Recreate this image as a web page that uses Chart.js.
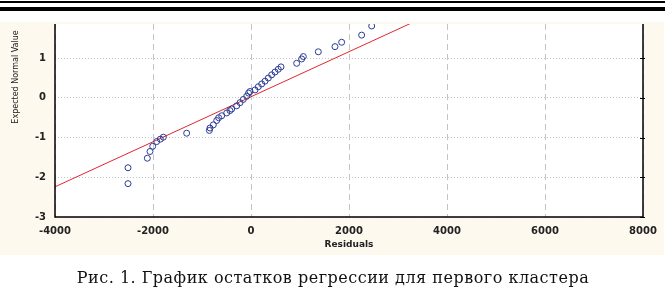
<!DOCTYPE html>
<html>
<head>
<meta charset="utf-8">
<script src="https://cdn.jsdelivr.net/npm/chart.js@4.4.1/dist/chart.umd.min.js"></script>
<style>
  html, body { margin: 0; padding: 0; background: #ffffff; }
  #wrap { position: relative; width: 668px; height: 290px; }
  canvas { display: block; }
</style>
</head>
<body>
<div id="wrap"><canvas id="c" width="668" height="290"></canvas></div>
<script>
// ---- data ----
const residuals = [-2510, -2510, -2116, -2061, -2006, -1925, -1850, -1789, -1313, -850,
  -837, -769, -700, -660, -598, -496, -430, -394, -292, -224,
  -157, -88, -50, -20, 82, 149, 218, 286, 353, 422,
  490, 557, 612, 932, 1034, 1068, 1374, 1714, 1850, 2258, 2463];
const expectedNormal = [-2.16, -1.76, -1.52, -1.35, -1.22, -1.10, -1.04, -0.99, -0.89, -0.82,
  -0.76, -0.68, -0.57, -0.50, -0.45, -0.38, -0.32, -0.28, -0.20, -0.12,
  -0.04, 0.04, 0.12, 0.16, 0.20, 0.28, 0.35, 0.42, 0.50, 0.58,
  0.65, 0.72, 0.78, 0.87, 0.98, 1.04, 1.16, 1.29, 1.40, 1.58, 1.81];
const fitLineX = [-4000, 3300];
const fitLineY = [-2.24, 1.90];
const xTicks = [-4000, -2000, 0, 2000, 4000, 6000, 8000];
const yTicks = [-3, -2, -1, 0, 1];
const xTitle = 'Residuals';
const yTitle = 'Expected Normal Value';
const caption = 'Рис. 1. График остатков регрессии для первого кластера';

const points = residuals.map((x, i) => ({ x: x, y: expectedNormal[i] }));
const linePts = fitLineX.map((x, i) => ({ x: x, y: fitLineY[i] }));

const decor = {
  id: 'decor',
  beforeDraw(chart) {
    const ctx = chart.ctx;
    const a = chart.chartArea;
    ctx.save();
    ctx.fillStyle = '#ffffff';
    ctx.fillRect(0, 0, 668, 290);
    ctx.fillStyle = '#fdf9ee';
    ctx.fillRect(0, 22, 664, 233);
    ctx.fillStyle = '#ffffff';
    ctx.fillRect(a.left, a.top, a.right - a.left, a.bottom - a.top);
    ctx.fillStyle = '#000000';
    ctx.fillRect(0, 1, 665, 2);
    ctx.fillRect(0, 7, 665, 4);
    ctx.restore();
  },
  afterDraw(chart) {
    const ctx = chart.ctx;
    const a = chart.chartArea;
    ctx.save();
    ctx.strokeStyle = '#000000';
    ctx.lineWidth = 1.5;
    ctx.beginPath();
    ctx.moveTo(a.left, a.top);
    ctx.lineTo(a.left, a.bottom);
    ctx.lineTo(a.right, a.bottom);
    ctx.lineTo(a.right, a.top);
    ctx.stroke();
    ctx.lineWidth = 1;
    const ys = chart.scales.y;
    yTicks.forEach(v => {
      const py = Math.round(ys.getPixelForValue(v)) + 0.5;
      ctx.beginPath();
      ctx.moveTo(a.right - 3, py);
      ctx.lineTo(a.right + 2, py);
      ctx.stroke();
    });
    ctx.fillStyle = '#222222';
    ctx.font = 'bold 9px "DejaVu Sans"';
    ctx.textAlign = 'center';
    ctx.textBaseline = 'middle';
    ctx.fillText(xTitle, (a.left + a.right) / 2, 245);
    ctx.save();
    ctx.translate(16, 77);
    ctx.rotate(-Math.PI / 2);
    ctx.font = '8px "DejaVu Sans"';
    ctx.fillText(yTitle, 0, 0);
    ctx.restore();
    ctx.fillStyle = '#111111';
    ctx.font = '16px "DejaVu Serif"';
    try { ctx.letterSpacing = '0.5px'; } catch (e) {}
    ctx.fillText(caption, 333, 279);
    ctx.restore();
  }
};

new Chart(document.getElementById('c'), {
  type: 'scatter',
  data: {
    datasets: [
      {
        label: 'fit',
        type: 'line',
        data: linePts,
        borderColor: '#e0262e',
        borderWidth: 1,
        pointRadius: 0,
        fill: false,
        order: 2
      },
      {
        label: 'residuals',
        data: points,
        pointStyle: 'circle',
        pointRadius: 3,
        pointBorderWidth: 1,
        borderColor: '#2d3d96',
        backgroundColor: 'rgba(0,0,0,0)',
        order: 1
      }
    ]
  },
  options: {
    responsive: false,
    animation: false,
    events: [],
    layout: { padding: { left: 0, top: 24, right: 25, bottom: 0 } },
    plugins: { legend: { display: false }, tooltip: { enabled: false } },
    scales: {
      x: {
        type: 'linear',
        min: -4000,
        max: 8000,
        afterBuildTicks: s => { s.ticks = xTicks.map(v => ({ value: v })); },
        afterFit: s => { s.height = 73; },
        grid: { color: '#c4c4c4', lineWidth: 1, drawTicks: false },
        border: { display: false, dash: [6, 4] },
        ticks: {
          padding: 8,
          color: '#222222',
          font: { family: 'DejaVu Sans', size: 10, weight: 'bold' },
          maxRotation: 0,
          callback: v => String(v)
        }
      },
      y: {
        type: 'linear',
        min: -3,
        max: 1.86,
        afterBuildTicks: s => { s.ticks = yTicks.map(v => ({ value: v })); },
        afterFit: s => { s.width = 55; },
        grid: { color: '#c4c4c4', lineWidth: 1, drawTicks: false },
        border: { display: false, dash: [1, 2] },
        ticks: {
          padding: 9,
          color: '#222222',
          font: { family: 'DejaVu Sans', size: 10, weight: 'bold' },
          callback: v => String(v)
        }
      }
    }
  },
  plugins: [decor]
});
</script>
</body>
</html>
